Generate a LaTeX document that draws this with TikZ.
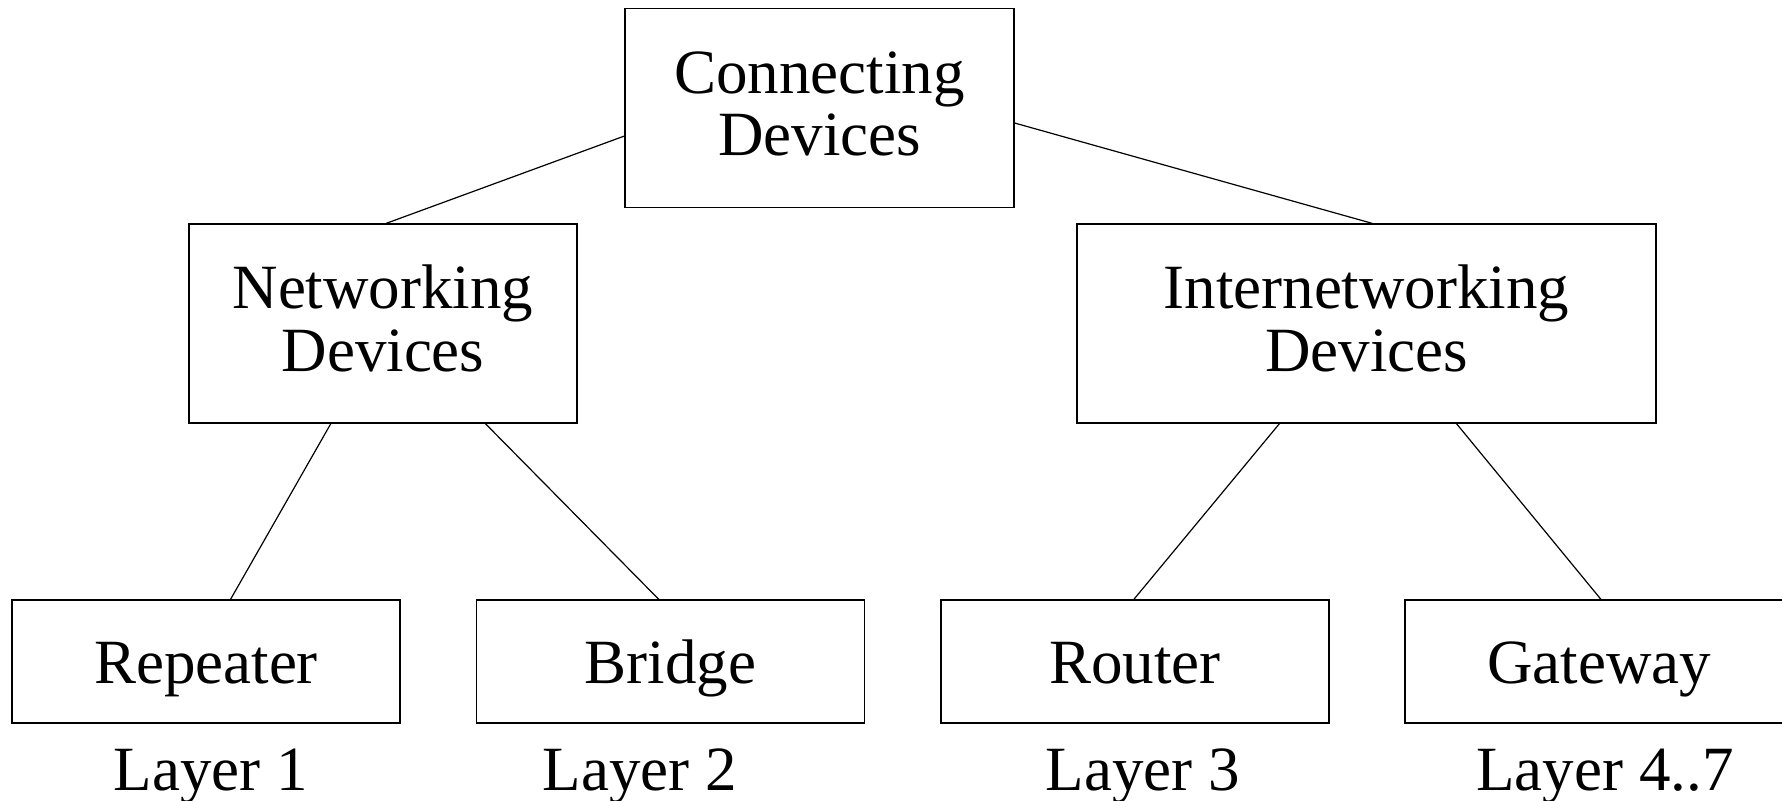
\documentclass[tikz,border=0pt]{standalone}
\usepackage{fontspec}
\setmainfont{Liberation Serif}
\usetikzlibrary{calc}
\begin{document}
\begin{tikzpicture}[x=0.5pt,y=-0.5pt,
  box/.style={draw,line width=0.6pt,inner sep=0pt,align=center,
    font=\fontsize{31.5}{31.25}\selectfont},
  bigbox/.style={box,minimum height=99.5pt,text height=48pt,text depth=0.3pt},
  leafbox/.style={box,minimum width=194pt,minimum height=61.5pt,text height=22pt,text depth=0.5pt},
  lbl/.style={anchor=base,inner sep=0pt,font=\fontsize{31.5}{31.5}\selectfont},
  conn/.style={line width=0.6pt}]
\clip (0,0) rectangle (1782,801);
\node[bigbox,minimum width=194.5pt] (top) at (819.5,108) {Connecting\\Devices};
\node[bigbox,minimum width=194pt] (net) at (383,323.5) {Networking\\Devices};
\node[bigbox,minimum width=289.5pt] (inet) at (1366.5,323.5) {Internetworking\\Devices};
\node[leafbox] (rep) at (206,661.5) {Repeater};
\node[leafbox] (bri) at (670.5,661.5) {Bridge};
\node[leafbox] (rou) at (1135,661.5) {Router};
\node[leafbox] (gat) at (1599,661.5) {Gateway};
\node[lbl] (l1) at (211,790) {Layer 1};
\node[lbl] (l2) at (640,790) {Layer 2};
\node[lbl] (l3) at (1143,790) {Layer 3};
\node[lbl] (l4) at (1605,790) {Layer 4..7};
\draw[conn] ($(top.north west)!0.64!(top.south west)$) -- ($(net.north west)!0.508!(net.north east)$);
\draw[conn] ($(top.north east)!0.575!(top.south east)$) -- ($(inet.north west)!0.51!(inet.north east)$);
\draw[conn] ($(net.south west)!0.366!(net.south east)$) -- ($(rep.north west)!0.563!(rep.north east)$);
\draw[conn] ($(net.south west)!0.763!(net.south east)$) -- ($(bri.north west)!0.47!(bri.north east)$);
\draw[conn] ($(inet.south west)!0.35!(inet.south east)$) -- ($(rou.north west)!0.497!(rou.north east)$);
\draw[conn] ($(inet.south west)!0.655!(inet.south east)$) -- ($(gat.north west)!0.505!(gat.north east)$);
\end{tikzpicture}
\end{document}
